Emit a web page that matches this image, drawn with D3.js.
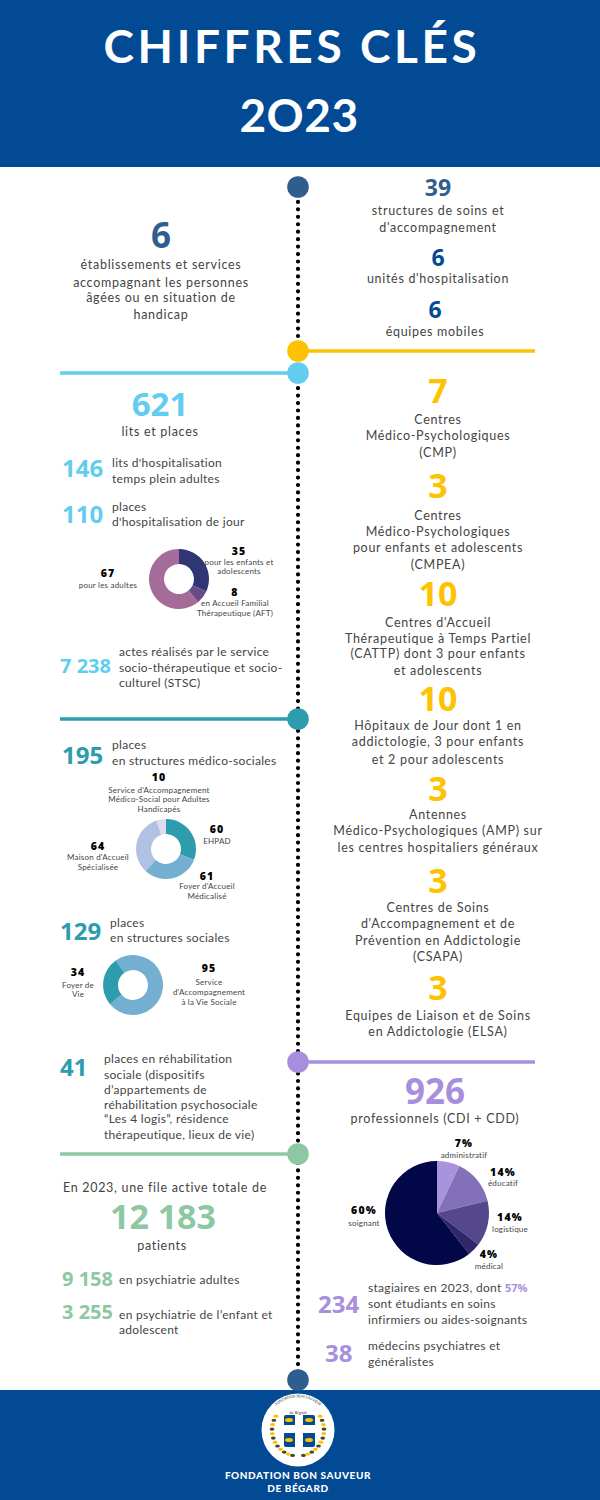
<!DOCTYPE html>
<html>
<head>
<meta charset="utf-8">
<title>Chiffres clés 2023</title>
<style>
body { margin:0; background:white; }
svg { display:block; }
text { font-family:Lato,sans-serif; fill:#444; }
.num { font-family:"Open Sans",sans-serif; font-weight:700; }
.big { font-family:"Open Sans",sans-serif; font-weight:800; fill:black; }
</style>
</head>
<body>
<script src="https://cdnjs.cloudflare.com/ajax/libs/d3/7.8.5/d3.min.js"></script>
<script>

// pies
litsLabels   = ['pour les enfants et adolescents','en Accueil Familial Thérapeutique (AFT)','pour les adultes']
litsValues   = [35,8,67]
litsColors   = ['#2f3673','#6b4a8a','#a56c99']

medicoLabels = ['EHPAD','Foyer d\'Accueil Médicalisé','Maison d\'Accueil Spécialisée','Service d\'Accompagnement Médico-Social pour Adultes Handicapés']
medicoValues = [60,61,64,10]
medicoColors = ['#2d9cac','#74aed0','#b0c2e4','#e0daf0']

socialLabels = ['Service d\'Accompagnement à la Vie Sociale','Foyer de Vie']
socialValues = [95,34]
socialColors = ['#74aed0','#2d9cac']

proLabels    = ['administratif','éducatif','logistique','médical','soignant']
proValues    = [7,14,14,4,60]
proColors    = ['#a993dc','#8270b8','#54478c','#2f2868','#020847']

// colours
navy='#034a94'; slate='#2f5d8e'; yellow='#fdc300'; sky='#62cdee'; teal='#2d9cac'; purple='#a88fdd'; green='#8dc8a2'

W = 600; H = 1500
svg = d3.select('body').append('svg').attr('width',W).attr('height',H)

svg.append('rect').attr('width',W).attr('height',167).attr('fill',navy)
svg.append('rect').attr('y',1390).attr('width',W).attr('height',110).attr('fill',navy)

function txt(x,ys,lines,o={}) {
	var left = o.anchor=='start'
	lines.forEach((s,i) => {
		svg.append('text').attr('x',x).attr('y',ys[i])
			.attr('text-anchor',o.anchor||'middle')
			.attr('class',o.cls||null)
			.style('font-size',(o.size||(left?12:12.5))+'px')
			.style('letter-spacing',(o.ls===undefined?(left?0.3:0.7):o.ls)+'px')
			.style('fill',o.fill||null)
			.style('font-weight',o.weight||null)
			.text(s)
	})
}
function num(x,y,s,fill,size,anchor) { txt(x,[y],[s],{cls:'num',fill:fill,size:size,anchor:anchor||'middle',ls:0}) }
function big(x,y,s) { txt(x,[y],[s],{cls:'big',size:10.5,ls:1.2}) }
function small(x,ys,lines) { txt(x,ys,lines,{size:8,ls:0.2}) }

// timeline
svg.append('line').attr('x1',298).attr('x2',298).attr('y1',187).attr('y2',1380)
	.attr('stroke','black').attr('stroke-width',4.2).attr('stroke-linecap','round').attr('stroke-dasharray','0 7.45')

rules = [[298,535,351,yellow],[60,298,373,sky],[60,298,719,teal],[298,535,1062,purple],[60,298,1154,green]]
rules.forEach(r => svg.append('line').attr('x1',r[0]).attr('x2',r[1]).attr('y1',r[2]).attr('y2',r[2])
	.attr('stroke',r[3]).attr('stroke-width',3.6))

nodes = [[187,slate],[351,yellow],[373,sky],[719,teal],[1062,purple],[1154,green],[1380,slate]]
nodes.forEach(n => svg.append('circle').attr('cx',298).attr('cy',n[0]).attr('r',10.8).attr('fill',n[1]))

// pies
function pie(cx,cy,r0,r1,values,colors,start) {
	var arcs = d3.pie().sort(null).startAngle(start).endAngle(start+2*Math.PI)(values)
	var arc = d3.arc().innerRadius(r0).outerRadius(r1)
	svg.append('g').attr('transform',`translate(${cx},${cy})`)
		.selectAll('path').data(arcs).join('path')
		.attr('d',arc).attr('fill',(d,i)=>colors[i])
}
pie(179,579,15,30,litsValues,litsColors,0)
pie(166,849,15,30,medicoValues,medicoColors,0)
pie(133,985,15,30,socialValues,socialColors,-35*Math.PI/180)
pie(437,1213,0,52,proValues,proColors,0)

// title
txt(292,[63],['CHIFFRES CLÉS'],{size:46,ls:3.6,fill:'white',weight:700})
txt(299,[132],['2O23'],{size:46,ls:0.5,fill:'white',weight:700})

// right column, top
num(438,196,'39',slate,23)
txt(438,[215,232],['structures de soins et','d\'accompagnement'])
num(438,266,'6',navy,23)
txt(438,[283],['unités d\'hospitalisation'])
num(435,318,'6',navy,23)
txt(435,[336],['équipes mobiles'])

// left column, top
num(161,248,'6',slate,35)
txt(161,[269,287,302,319],['établissements et services','accompagnant les personnes','âgées ou en situation de','handicap'])

// lits et places
num(160,416,'621',sky,33)
txt(160,[436],['lits et places'])
num(62,477,'146',sky,24,'start')
txt(112,[467,483],['lits d\'hospitalisation','temps plein adultes'],{anchor:'start'})
num(62,523,'110',sky,24,'start')
txt(112,[511,526],['places','d\'hospitalisation de jour'],{anchor:'start'})

big(108,577,String(litsValues[2])); small(108,[588],[litsLabels[2]])
big(239,555,String(litsValues[0])); small(239,[565,574],['pour les enfants et','adolescents'])
big(235,596,String(litsValues[1])); small(235,[606,616],['en Accueil Familial','Thérapeutique (AFT)'])

num(60,673,'7 238',sky,20,'start')
txt(119,[656,672,687],['actes réalisés par le service','socio-thérapeutique et socio-','culturel (STSC)'],{anchor:'start'})

// medico-social
num(62,764,'195',teal,24,'start')
txt(112,[749,765],['places','en structures médico-sociales'],{anchor:'start'})
big(159,781,String(medicoValues[3])); small(159,[793,802,812],['Service d\'Accompagnement','Médico-Social pour Adultes','Handicapés'])
big(217,833,String(medicoValues[0])); small(217,[844],[medicoLabels[0]])
big(98,850,String(medicoValues[2])); small(98,[860,870],['Maison d\'Accueil','Spécialisée'])
big(207,880,String(medicoValues[1])); small(207,[889,899],['Foyer d\'Accueil','Médicalisé'])

num(60,940,'129',teal,24,'start')
txt(110,[927,942],['places','en structures sociales'],{anchor:'start'})
big(78,976,String(socialValues[1])); small(78,[988,997],['Foyer de','Vie'])
big(209,972,String(socialValues[0])); small(209,[985,995,1005],['Service','d\'Accompagnement','à la Vie Sociale'])

num(60,1076,'41',teal,24,'start')
txt(104,[1063,1079,1094,1109,1123,1139],['places en réhabilitation','sociale (dispositifs','d’appartements de','réhabilitation psychosociale','“Les 4 logis”, résidence','thérapeutique, lieux de vie)'],{anchor:'start'})

// file active
txt(165,[1192],['En 2023, une file active totale de'])
num(163,1229,'12 183',green,34)
txt(162,[1250],['patients'])
num(62,1286,'9 158',green,20,'start')
txt(119,[1284],['en psychiatrie adultes'],{anchor:'start'})
num(62,1319,'3 255',green,20,'start')
txt(119,[1319,1334],['en psychiatrie de l’enfant et','adolescent'],{anchor:'start'})

// right column, structures
num(438,403,'7',yellow,34)
txt(438,[424,440,457],['Centres','Médico-Psychologiques','(CMP)'])
num(438,498,'3',yellow,34)
txt(438,[520,536,552,569],['Centres','Médico-Psychologiques','pour enfants et adolescents','(CMPEA)'])
num(438,606,'10',yellow,34)
txt(438,[627,643,658,675],['Centres d\'Accueil','Thérapeutique à Temps Partiel','(CATTP) dont 3 pour enfants','et adolescents'])
num(438,711,'10',yellow,34)
txt(438,[730,746,764],['Hôpitaux de Jour dont 1 en','addictologie, 3 pour enfants','et 2 pour adolescents'])
num(438,801,'3',yellow,34)
txt(438,[819,835,852],['Antennes','Médico-Psychologiques (AMP) sur','les centres hospitaliers généraux'])
num(438,893,'3',yellow,34)
txt(438,[912,928,945,961],['Centres de Soins','d\'Accompagnement et de','Prévention en Addictologie','(CSAPA)'])
num(438,1000,'3',yellow,34)
txt(438,[1020,1036],['Equipes de Liaison et de Soins','en Addictologie (ELSA)'])

// professionnels
num(435,1104,'926',purple,35)
txt(435,[1123],['professionnels (CDI + CDD)'])
big(464,1147,proValues[0]+'%'); small(464,[1158],[proLabels[0]])
big(503,1176,proValues[1]+'%'); small(503,[1186],[proLabels[1]])
big(510,1221,proValues[2]+'%'); small(510,[1232],[proLabels[2]])
big(489,1258,proValues[3]+'%'); small(489,[1269],[proLabels[3]])
big(364,1214,proValues[4]+'%'); small(364,[1226],[proLabels[4]])

num(318,1313,'234',purple,24,'start')
t = svg.append('text').attr('x',368).attr('y',1292).style('font-size','12px').style('letter-spacing','0.3px')
t.append('tspan').text('stagiaires en 2023, dont ')
t.append('tspan').attr('class','num').style('fill',purple).style('font-size','11px').style('letter-spacing','0').text('57%')
txt(368,[1308,1324],['sont étudiants en soins','infirmiers ou aides-soignants'],{anchor:'start'})
num(325,1362,'38',purple,24,'start')
txt(368,[1350,1366],['médecins psychiatres et','généralistes'],{anchor:'start'})

// logo
logo = svg.append('g').attr('transform','translate(298,1430)')
logo.append('circle').attr('r',36.5).attr('fill','white')
logo.append('rect').attr('x',-14).attr('y',-15).attr('width',31).attr('height',32).attr('rx',2).attr('fill',navy)
logo.append('rect').attr('x',-14).attr('y',-5).attr('width',31).attr('height',8).attr('fill','white')
logo.append('rect').attr('x',-3).attr('y',-15).attr('width',8).attr('height',32).attr('fill','white')
marks = [[-9,-10],[11,-10],[-9,10],[11,10]]
logo.selectAll('.m').data(marks).join('ellipse').attr('cx',d=>d[0]).attr('cy',d=>d[1]).attr('rx',4).attr('ry',2).attr('fill',yellow)
leaves = [12,22,32,42,52,62,72,82,92,102,112,122]
;[-1,1].forEach(s => {
	logo.selectAll(null).data(leaves).join('ellipse')
		.attr('cx',d=>s*26*Math.sin(d*Math.PI/180)).attr('cy',d=>26*Math.cos(d*Math.PI/180))
		.attr('rx',2.4).attr('ry',1.6).attr('fill',(d,i)=>i%2?yellow:'#4a4526')
})
logo.append('path').attr('id','logoArc').attr('d','M-23,-23 A32,32 0 0 1 23,-23').attr('fill','none')
logo.append('text').attr('text-anchor','middle').style('font-size','3.6px').style('fill','#333')
	.append('textPath').attr('href','#logoArc').attr('startOffset','50%').text('FONDATION BON SAUVEUR')
logo.append('text').attr('y',-16.5).attr('text-anchor','middle').style('font-size','3.8px').style('fill','#333').text('de Bégard')

txt(298,[1479,1492],['FONDATION BON SAUVEUR','DE BÉGARD'],{size:10,ls:0.6,fill:'white',weight:900})

</script>
</body>
</html>
